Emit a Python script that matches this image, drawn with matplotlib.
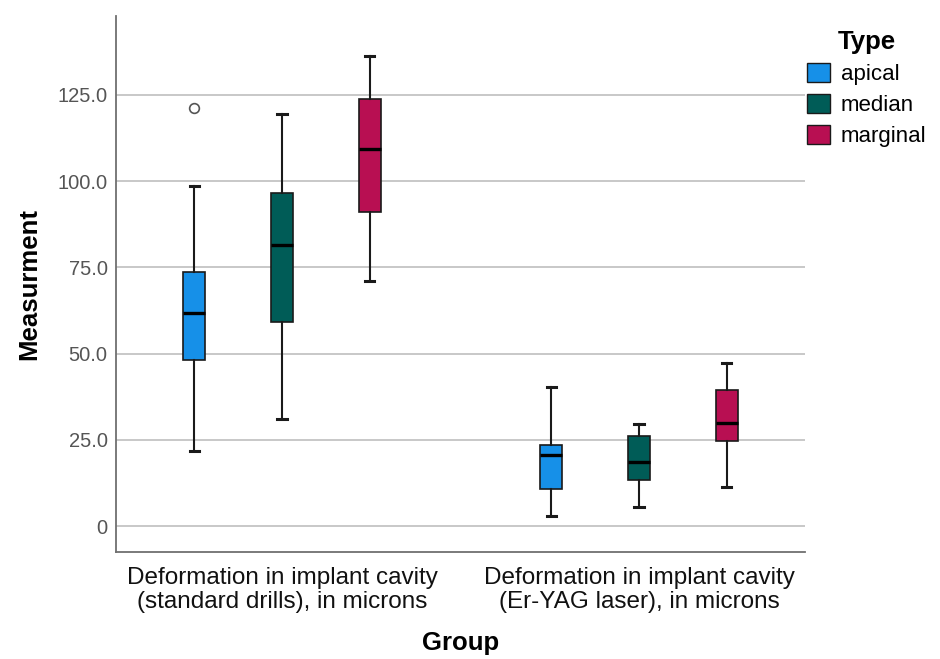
import matplotlib
matplotlib.use("Agg")
import matplotlib.pyplot as plt
from matplotlib.patches import Patch

plt.rcParams['font.family'] = ['Liberation Sans', 'DejaVu Sans']

groups = ["Deformation in implant cavity\n(standard drills), in microns",
          "Deformation in implant cavity\n(Er-YAG laser), in microns"]
types = ["apical", "median", "marginal"]
colors = ["#1690E8", "#005C57", "#B80F52"]

# five-number summaries, per type, per group
whislo = {"apical": [21.7, 2.9], "median": [31.0, 5.6], "marginal": [71.1, 11.2]}
q1 = {"apical": [48.3, 10.7], "median": [59.3, 13.3], "marginal": [91.2, 24.7]}
med = {"apical": [61.9, 20.7], "median": [81.6, 18.6], "marginal": [109.3, 29.9]}
q3 = {"apical": [73.6, 23.6], "median": [96.5, 26.1], "marginal": [123.7, 39.4]}
whishi = {"apical": [98.6, 40.2], "median": [119.5, 29.5], "marginal": [136.3, 47.3]}
fliers = {"apical": [[121.1], []], "median": [[], []], "marginal": [[], []]}

yticks = [0, 25, 50, 75, 100, 125]
ytick_labels = ["0", "25.0", "50.0", "75.0", "100.0", "125.0"]

fig = plt.figure(figsize=(9.4, 6.59), dpi=100)
ax = fig.add_axes([0.1234, 0.1624, 0.7330, 0.8133])

offset = 0.246
for k, t in enumerate(types):
    stats = []
    for g in range(len(groups)):
        stats.append(dict(whislo=whislo[t][g], q1=q1[t][g], med=med[t][g],
                          q3=q3[t][g], whishi=whishi[t][g], fliers=fliers[t][g]))
    pos = [g + (k - 1) * offset for g in range(len(groups))]
    ax.bxp(stats, positions=pos, widths=0.062, capwidths=0.026,
           patch_artist=True, showfliers=True, zorder=3,
           boxprops=dict(facecolor=colors[k], edgecolor="#1a1a1a", linewidth=1.2),
           medianprops=dict(color="black", linewidth=2.4),
           whiskerprops=dict(color="#1a1a1a", linewidth=1.5),
           capprops=dict(color="#1a1a1a", linewidth=2.2),
           flierprops=dict(marker="o", markersize=7, markerfacecolor="white",
                           markeredgecolor="#555555", markeredgewidth=1.2))

ax.set_xlim(-0.465, 1.465)
ax.set_ylim(-7.5, 147.9)
ax.set_xticks(range(len(groups)))
ax.set_xticklabels(groups, fontsize=17.5, color="#111111", linespacing=1.12)
ax.set_yticks(yticks)
ax.set_yticklabels(ytick_labels, fontsize=14.5, color="#555555")
ax.tick_params(axis="y", length=0, pad=6)
ax.tick_params(axis="x", length=0, pad=11)
ax.yaxis.grid(True, color="#c4c4c4", linewidth=1.3, zorder=0)
ax.set_axisbelow(True)
for s in ["top", "right"]:
    ax.spines[s].set_visible(False)
for s in ["left", "bottom"]:
    ax.spines[s].set_color("#707070")
    ax.spines[s].set_linewidth(1.3)

ax.set_ylabel("Measurment", fontsize=18.5, fontweight="bold", labelpad=12)
ax.set_xlabel("Group", fontsize=18.5, fontweight="bold", labelpad=13)

handles = [Patch(facecolor=c, edgecolor="#1a1a1a", linewidth=1.0) for c in colors]
leg = fig.legend(handles, types, loc="upper left", bbox_to_anchor=(0.858, 0.954),
                 frameon=False, fontsize=16, title="Type",
                 title_fontproperties=dict(size=18.5, weight="bold"),
                 handlelength=1.04, handleheight=0.92, handletextpad=0.5,
                 labelspacing=0.4, borderpad=0, borderaxespad=0)

fig.savefig("out.png", dpi=100)
